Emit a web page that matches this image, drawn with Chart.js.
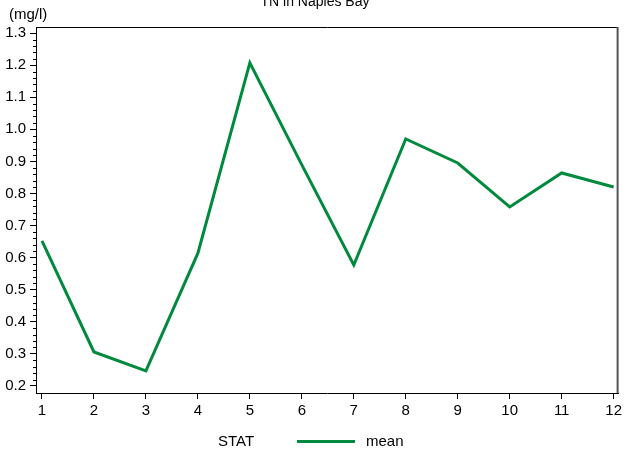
<!DOCTYPE html>
<html>
<head>
<meta charset="utf-8">
<script src="https://cdn.jsdelivr.net/npm/chart.js@4/dist/chart.umd.min.js"></script>
<style>
  body { margin: 0; background: #fff; }
  #wrap { width: 625px; height: 453px; }
</style>
</head>
<body>
<div id="wrap"><canvas id="myChart" width="625" height="453"></canvas></div>
<script>
// dados
const months = [1, 2, 3, 4, 5, 6, 7, 8, 9, 10, 11, 12];
const meanTN = [0.652, 0.306, 0.247, 0.614, 1.207, 0.889, 0.577, 0.970, 0.895, 0.758, 0.864, 0.820];
const yTicks = [0.2, 0.3, 0.4, 0.5, 0.6, 0.7, 0.8, 0.9, 1.0, 1.1, 1.2, 1.3];
const chartTitle = 'TN in Naples Bay';
const unitLabel = '(mg/l)';
const legendTitle = 'STAT';
const seriesName = 'mean';

const FONT = '"Liberation Sans", Arial, sans-serif';
const GREEN = '#008a3e';

// moldura, ticks menores, título e legenda
const extras = {
    id: 'extras',
    afterDraw(chart) {
        const ctx = chart.ctx;
        const a = chart.chartArea;
        const y = chart.scales.y;
        ctx.save();
        ctx.strokeStyle = '#000';
        ctx.lineWidth = 1;
        ctx.beginPath();
        ctx.moveTo(a.left + 0.5, a.top + 0.5);
        ctx.lineTo(a.right - 0.5, a.top + 0.5);
        ctx.stroke();
        ctx.strokeStyle = '#555';
        ctx.lineWidth = 2;
        ctx.beginPath();
        ctx.moveTo(a.right - 1, a.top);
        ctx.lineTo(a.right - 1, a.bottom);
        ctx.stroke();

        // ticks menores a cada 0.02
        ctx.strokeStyle = '#000';
        ctx.lineWidth = 1;
        ctx.beginPath();
        for (let i = 0; i <= 55; i++) {
            if (i % 5 === 0) continue;
            const v = 0.2 + i * 0.02;
            const py = Math.round(y.getPixelForValue(v)) + 0.5;
            ctx.moveTo(a.left - 3, py);
            ctx.lineTo(a.left, py);
        }
        ctx.stroke();

        ctx.fillStyle = '#000';
        ctx.font = '14px ' + FONT;
        ctx.textAlign = 'center';
        ctx.textBaseline = 'alphabetic';
        ctx.fillText(chartTitle, 315, 6);

        ctx.font = '15px ' + FONT;
        ctx.textAlign = 'left';
        ctx.textBaseline = 'middle';
        ctx.fillText(unitLabel, 9, 15);

        // legenda
        ctx.fillText(legendTitle, 218, 442);
        ctx.strokeStyle = chart.data.datasets[0].borderColor;
        ctx.lineWidth = 3;
        ctx.beginPath();
        ctx.moveTo(297, 441.5);
        ctx.lineTo(355, 441.5);
        ctx.stroke();
        ctx.fillText(chart.data.datasets[0].label, 366, 442);
        ctx.restore();
    }
};

const ctx = document.getElementById('myChart').getContext('2d');
const myChart = new Chart(ctx, {
    type: 'line',
    data: {
        datasets: [{
            label: seriesName,
            data: months.map((m, i) => ({ x: m, y: meanTN[i] })),
            borderColor: GREEN,
            borderWidth: 3,
            pointRadius: 0,
            tension: 0,
            fill: false
        }]
    },
    options: {
        responsive: false,
        animation: false,
        layout: { padding: { top: 27, right: 3, left: 0, bottom: 0 } },
        plugins: {
            legend: { display: false },
            title: { display: false },
            tooltip: { enabled: false }
        },
        scales: {
            x: {
                type: 'linear',
                min: 0.885,
                max: 12.096,
                afterBuildTicks: s => { s.ticks = months.map(v => ({ value: v })); },
                afterFit: s => { s.height = 60; },
                grid: { drawOnChartArea: false, tickLength: 6, color: '#000' },
                border: { color: '#000' },
                ticks: {
                    color: '#000',
                    padding: 3,
                    font: { family: FONT, size: 15 },
                    maxRotation: 0,
                    callback: v => String(v)
                }
            },
            y: {
                type: 'linear',
                min: 0.178,
                max: 1.319,
                afterBuildTicks: s => { s.ticks = yTicks.map(v => ({ value: v })); },
                afterFit: s => { s.width = 36; },
                grid: { drawOnChartArea: false, tickLength: 6, color: '#000' },
                border: { color: '#000' },
                ticks: {
                    color: '#000',
                    padding: 4,
                    font: { family: FONT, size: 15 },
                    callback: v => v.toFixed(1)
                }
            }
        }
    },
    plugins: [extras]
});
</script>
</body>
</html>
